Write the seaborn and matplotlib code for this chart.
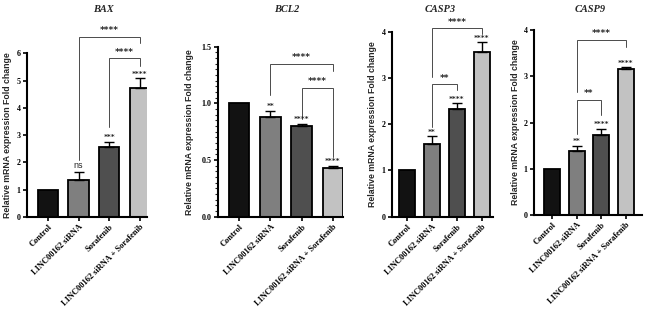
import matplotlib
matplotlib.use('Agg')
import matplotlib.pyplot as plt
from matplotlib.ticker import MultipleLocator
import numpy as np
import pandas as pd
import seaborn as sns


groups = ['Control', 'LINC00162 siRNA', 'Sorafenib', 'LINC00162 siRNA + Sorafenib']
bar_colors = ['#121212', '#7f7f7f', '#4f4f4f', '#c2c2c2']

genes = ['BAX', 'BCL2', 'CASP3', 'CASP9']

# fold change means and upper error
bax_mean = [1.0, 1.36, 2.55, 4.72]
bax_err = [0.0, 0.29, 0.21, 0.36]
bcl2_mean = [1.0, 0.88, 0.80, 0.43]
bcl2_err = [0.0, 0.055, 0.02, 0.02]
casp3_mean = [1.0, 1.57, 2.33, 3.56]
casp3_err = [0.0, 0.17, 0.12, 0.21]
casp9_mean = [1.0, 1.38, 1.73, 3.15]
casp9_err = [0.0, 0.12, 0.14, 0.04]

# significance vs control
bax_sig = ['', 'ns', '***', '****']
bcl2_sig = ['', '**', '****', '****']
casp3_sig = ['', '**', '****', '****']
casp9_sig = ['', '**', '****', '****']

# pairwise comparisons: (bar i, bar j, label)
bax_pairs = [(1, 3, '****'), (2, 3, '****')]
bcl2_pairs = [(1, 3, '****'), (2, 3, '****')]
casp3_pairs = [(1, 3, '****'), (1, 2, '**')]
casp9_pairs = [(1, 3, '****'), (1, 2, '**')]

# bracket layout: (line height, left leg bottom, right leg bottom)
bax_brk = [(6.6, 2.1, 6.36), (5.81, 3.3, 5.54)]
bcl2_brk = [(1.35, 1.07, 1.29), (1.14, 0.86, 0.53)]
casp3_brk = [(4.07, 3.02, 3.94), (2.86, 1.94, 2.73)]
casp9_brk = [(3.79, 2.66, 3.63), (2.48, 1.76, 2.16)]

panels = [
    dict(mean=bax_mean, err=bax_err, sig=bax_sig, pairs=bax_pairs, brk=bax_brk,
         ymax=6, step=1, minor=None, fmt='{:.0f}',
         rect=[27, 217, 147, 53.3], xlim=(-0.68, 3.23), title_x=103, ylab_x=8),
    dict(mean=bcl2_mean, err=bcl2_err, sig=bcl2_sig, pairs=bcl2_pairs, brk=bcl2_brk,
         ymax=1.5, step=0.5, minor=0.05, fmt='{:.1f}',
         rect=[218, 216.7, 343, 46.7], xlim=(-0.67, 3.32), title_x=287, ylab_x=190),
    dict(mean=casp3_mean, err=casp3_err, sig=casp3_sig, pairs=casp3_pairs, brk=casp3_brk,
         ymax=4, step=1, minor=None, fmt='{:.0f}',
         rect=[392, 216.7, 493, 31.7], xlim=(-0.6, 3.44), title_x=440, ylab_x=372),
    dict(mean=casp9_mean, err=casp9_err, sig=casp9_sig, pairs=casp9_pairs, brk=casp9_brk,
         ymax=4, step=1, minor=None, fmt='{:.0f}',
         rect=[534, 215, 642, 30], xlim=(-0.73, 3.65), title_x=590, ylab_x=515),
]

sns.set_theme(style='ticks')
plt.rcParams['font.family'] = ['Liberation Serif', 'DejaVu Serif']

W, H = 669, 316
fig = plt.figure(figsize=(W / 100, H / 100), dpi=100)

for gene, p in zip(genes, panels):
    x0, yb, x1, yt = p['rect']
    ax = fig.add_axes([x0 / W, (H - yb) / H, (x1 - x0) / W, (yb - yt) / H])

    df = pd.DataFrame({'group': groups, 'value': p['mean']})
    sns.barplot(data=df, x='group', y='value', hue='group', order=groups,
                palette=dict(zip(groups, bar_colors)), edgecolor='black',
                linewidth=1.3, width=0.66, errorbar=None, legend=False, ax=ax)

    xs = np.arange(len(groups))
    mean = np.array(p['mean'])
    err = np.array(p['err'])
    has_err = err > 0
    ax.errorbar(xs[has_err], mean[has_err], yerr=[np.zeros(has_err.sum()), err[has_err]],
                fmt='none', ecolor='black', elinewidth=1.0, capsize=3.8, capthick=1.0,
                zorder=1)

    # stars above each bar
    for xi, m, e, s in zip(xs, mean, err, p['sig']):
        if s == 'ns':
            ax.text(xi, m + e + p['ymax'] * 0.012, s, ha='center', va='bottom',
                    fontsize=6.5, family='Liberation Sans', clip_on=False)
        elif s:
            ax.text(xi, m + e + p['ymax'] * 0.008, s, ha='center', va='bottom',
                    fontsize=5.3, family='DejaVu Sans', fontweight='bold', clip_on=False)

    # comparison brackets
    for (i, j, lab), (yl, lb, rb) in zip(p['pairs'], p['brk']):
        ax.plot([i, i, j, j], [lb, yl, yl, rb], color='#4a4a4a', lw=0.7,
                clip_on=False, solid_joinstyle='miter')
        ax.text((i + j) / 2, yl + p['ymax'] * 0.01, lab, ha='center', va='bottom',
                fontsize=6.4, family='DejaVu Sans', fontweight='bold', clip_on=False)

    ax.set_xlim(*p['xlim'])
    ax.set_ylim(0, p['ymax'])
    ax.yaxis.set_major_locator(MultipleLocator(p['step']))
    if p['minor']:
        ax.yaxis.set_minor_locator(MultipleLocator(p['minor']))
        ax.tick_params(axis='y', which='minor', length=2, width=0.8)
    ticks = np.arange(0, p['ymax'] + 1e-9, p['step'])
    ax.set_yticks(ticks)
    ax.set_yticklabels([p['fmt'].format(t) for t in ticks], fontweight='bold', fontsize=5.8)
    ax.set_xticks(xs)
    ax.set_xticklabels(groups, rotation=45, ha='right', rotation_mode='anchor',
                       fontweight='bold', fontsize=6)
    ax.tick_params(axis='both', which='major', length=3, width=1.2, pad=1.5, colors='black')
    ax.set_xlabel('')
    ax.set_ylabel('')
    for side in ['left', 'bottom']:
        ax.spines[side].set_linewidth(1.5)
        ax.spines[side].set_color('black')
    sns.despine(ax=ax)

    fig.text(p['title_x'] / W, 1 - 10 / H, gene, ha='center', va='center',
             fontsize=7.5, fontweight='bold', fontstyle='italic')
    fig.text(p['ylab_x'] / W, (H - (yb + yt) / 2) / H,
             'Relative mRNA expression Fold change', rotation=90,
             ha='center', va='center', fontsize=6.3, fontweight='bold',
             family='Liberation Sans')

fig.savefig('out.png', dpi=100, facecolor='white')
